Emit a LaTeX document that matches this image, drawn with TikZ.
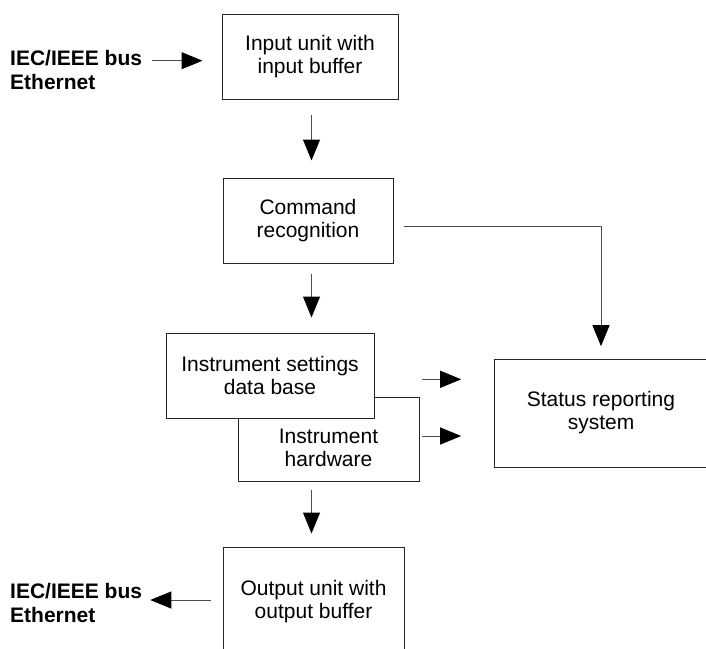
\documentclass[tikz,border=0pt]{standalone}
\usepackage{fontspec}
\setmainfont{Liberation Sans}
\usetikzlibrary{arrows.meta,positioning}
\definecolor{ink}{HTML}{262626}
\definecolor{wire}{HTML}{4D4D4D}
\begin{document}
\begin{tikzpicture}[x=1pt,y=-1pt,every node/.style={font=\fontsize{21}{23}\selectfont},
 box/.style={draw=ink,line width=1pt,fill=white,minimum width=176pt,minimum height=85pt,align=center,inner sep=0pt},
 bus/.style={font=\fontsize{21}{24}\selectfont\bfseries,align=left,inner sep=0pt,anchor=west},
 arr/.style={-{Triangle[length=21pt,width=17pt,color=black]},wire,line width=1pt}]
\clip (0,0) rectangle (706,648);
\node[box](in) at (310,56.5){Input unit with\\input buffer};
\node[box,minimum width=170pt](cmd) at (308,220.5){Command\\recognition};
\node[box,minimum width=181pt,minimum height=84pt,text height=55.4pt,text depth=0pt](hw) at (328.5,439){Instrument\\hardware};
\node[box,minimum width=208pt](set) at (270,375.5){Instrument settings\\data base};
\node[box,minimum width=214pt,minimum height=108pt](stat) at (601,413){Status reporting\\system};
\node[box,minimum width=181pt,minimum height=110pt](out) at (313.5,602){Output unit with\\output buffer};
\node[bus](busin) at (10,69.5){IEC/IEEE bus\\Ethernet};
\node[bus](busout) at (10,603.3){IEC/IEEE bus\\Ethernet};
% main column
\coordinate (spine) at (311.5,0);
\foreach \a/\b/\s/\e in {in/cmd/15pt/17pt,cmd/set/10pt/15pt,hw/out/8pt/13pt}{\draw[arr,shorten <=\s,shorten >=\e](spine |- \a.south)--(spine |- \b.north);}
% bus in and out
\coordinate (inarr) at ([yshift=-4.2pt]in.west);
\draw[arr,shorten <=10pt,shorten >=19pt](busin.east |- inarr)--(inarr);
\coordinate (outarr) at ([yshift=2pt]out.west);
\draw[arr,shorten <=11.3pt,shorten >=8pt](outarr)--(busout.east |- outarr);
% to status reporting
\coordinate (cmdarr) at ([yshift=-6.2pt]cmd.east);
\draw[arr,shorten <=10pt,shorten >=12.3pt](cmdarr)-|(stat.north);
\coordinate (setarr) at ([yshift=-3.8pt]set.east);
\draw[arr,shorten <=47pt,shorten >=32.3pt](setarr)--(stat.west |- setarr);
\coordinate (hwarr) at ([yshift=3pt]hw.east);
\draw[arr,shorten <=2pt,shorten >=32.3pt](hwarr)--(stat.west |- hwarr);
\end{tikzpicture}
\end{document}
